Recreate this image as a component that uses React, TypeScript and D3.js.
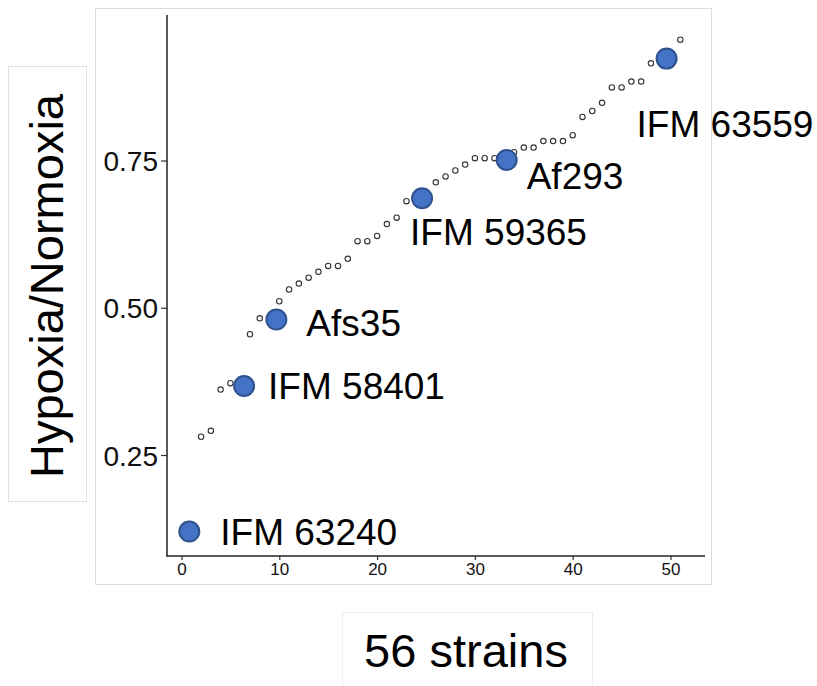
import React, { useRef, useEffect } from 'react';
import * as d3 from 'd3';

// rank of each background strain and its hypoxia/normoxia ratio
const rankX = [2, 3, 4, 5, 7, 8, 10, 11, 12, 13, 14, 15, 16, 17, 18, 19, 20, 21, 22, 23, 26, 27, 28, 29, 30, 31, 32, 34, 35, 36, 37, 38, 39, 40, 41, 42, 43, 44, 45, 46, 47, 48, 51];
const ratioY = [0.281, 0.291, 0.361, 0.372, 0.455, 0.482, 0.511, 0.531, 0.541, 0.551, 0.561, 0.571, 0.571, 0.583, 0.613, 0.613, 0.622, 0.642, 0.653, 0.681, 0.713, 0.723, 0.733, 0.743, 0.754, 0.754, 0.754, 0.764, 0.772, 0.772, 0.783, 0.783, 0.783, 0.793, 0.824, 0.834, 0.848, 0.874, 0.874, 0.884, 0.884, 0.915, 0.955];

// highlighted strains
const strainNames = ['IFM 63240', 'IFM 58401', 'Afs35', 'IFM 59365', 'Af293', 'IFM 63559'];
const strainX = [0.8, 6.4, 9.7, 24.6, 33.25, 49.6];
const strainY = [0.12, 0.367, 0.48, 0.686, 0.751, 0.923];

const xTicks = [0, 10, 20, 30, 40, 50];
const yTicks = [0.25, 0.5, 0.75];

// label placement relative to its point (px)
const labelOffsets = [[31, 13], [24, 13], [30, 16], [-12, 47], [20, 29], [-30, 78]];

const FONT = '"Liberation Sans", Arial, Helvetica, sans-serif';

export default function App() {
  const svgRef = useRef<SVGSVGElement>(null);

  useEffect(() => {
    const svg = d3.select(svgRef.current);
    svg.selectAll('*').remove();

    const x = d3.scaleLinear().domain([0, 50]).range([181.5, 670.5]);
    const y = d3.scaleLinear().domain([0.25, 0.75]).range([455, 160.5]);

    // panel boxes
    svg.append('rect').attr('x', 95.5).attr('y', 8.5).attr('width', 616).attr('height', 576)
      .attr('fill', 'none').attr('stroke', '#dcdcdc');
    svg.append('rect').attr('x', 8.5).attr('y', 66.5).attr('width', 78).attr('height', 435)
      .attr('fill', 'none').attr('stroke', '#e2e2e2');
    svg.append('rect').attr('x', 342.5).attr('y', 612.5).attr('width', 250).attr('height', 90)
      .attr('fill', 'none').attr('stroke', '#eeeeee');

    // axes
    const yAxis = d3.axisLeft(y).tickValues(yTicks).tickFormat(d3.format('.2f')).tickSize(6).tickSizeOuter(0);
    const gy = svg.append('g').attr('transform', 'translate(167,0)').call(yAxis);
    gy.select('.domain').remove();
    gy.selectAll('.tick line').attr('stroke', '#333').attr('stroke-width', 1.2);
    gy.selectAll('.tick text').attr('font-size', 28).attr('font-family', FONT).attr('fill', '#111').attr('x', -9).attr('dy', '0.36em');

    const xAxis = d3.axisBottom(x).tickValues(xTicks).tickSize(4).tickSizeOuter(0);
    const gx = svg.append('g').attr('transform', 'translate(0,556)').call(xAxis);
    gx.select('.domain').remove();
    gx.selectAll('.tick line').attr('stroke', '#333').attr('stroke-width', 1.2);
    gx.selectAll('.tick text').attr('font-size', 17).attr('font-family', FONT).attr('fill', '#111').attr('y', 7);

    svg.append('line').attr('x1', 167).attr('x2', 167).attr('y1', 15).attr('y2', 556.5)
      .attr('stroke', '#222').attr('stroke-width', 1.5);
    svg.append('line').attr('x1', 166.3).attr('x2', 705).attr('y1', 556).attr('y2', 556)
      .attr('stroke', '#222').attr('stroke-width', 1.5);

    // background strains
    svg.append('g').selectAll('circle')
      .data(rankX)
      .join('circle')
      .attr('cx', (d) => x(d))
      .attr('cy', (d, i) => y(ratioY[i]))
      .attr('r', 2.7)
      .attr('fill', '#fff')
      .attr('stroke', '#333')
      .attr('stroke-width', 1.1);

    // highlighted strains
    svg.append('g').selectAll('circle')
      .data(strainNames)
      .join('circle')
      .attr('cx', (d, i) => x(strainX[i]))
      .attr('cy', (d, i) => y(strainY[i]))
      .attr('r', 10)
      .attr('fill', '#4472c4')
      .attr('stroke', '#2f528f')
      .attr('stroke-width', 2);

    svg.append('g').selectAll('text')
      .data(strainNames)
      .join('text')
      .attr('x', (d, i) => x(strainX[i]) + labelOffsets[i][0])
      .attr('y', (d, i) => y(strainY[i]) + labelOffsets[i][1])
      .attr('font-size', 37)
      .attr('font-family', FONT)
      .attr('fill', '#000')
      .text((d) => d);

    // axis titles
    svg.append('text')
      .attr('transform', 'translate(63,286) rotate(-90)')
      .attr('text-anchor', 'middle')
      .attr('font-size', 47)
      .attr('font-family', FONT)
      .text('Hypoxia/Normoxia');

    svg.append('text')
      .attr('x', 466)
      .attr('y', 667)
      .attr('text-anchor', 'middle')
      .attr('font-size', 47)
      .attr('font-family', FONT)
      .text('56 strains');
  }, []);

  return (
    <svg
      ref={svgRef}
      width={817}
      height={686}
      style={{ position: 'absolute', left: 0, top: 0, background: '#fff' }}
    />
  );
}
